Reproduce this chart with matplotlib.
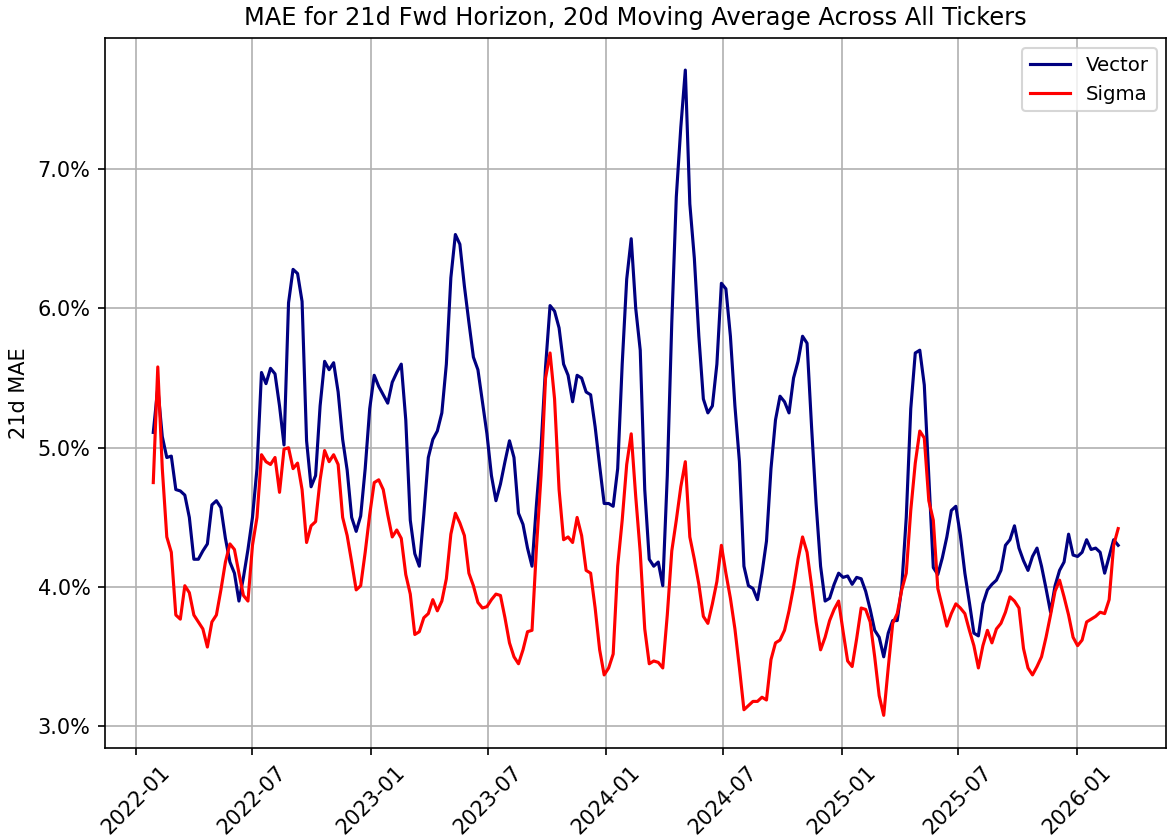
import numpy as np
import pandas as pd
import matplotlib
matplotlib.use('Agg')
import matplotlib.pyplot as plt
import matplotlib.dates as mdates
from matplotlib.ticker import PercentFormatter

# weekly readings, 20d moving average of 21d fwd MAE (in %)
dates = pd.date_range('2022-01-28', periods=215, freq='7D')

vector = [
    5.11, 5.43, 5.08, 4.93, 4.94, 4.70, 4.69, 4.66, 4.50, 4.20,
    4.20, 4.26, 4.31, 4.59, 4.62, 4.57, 4.35, 4.18, 4.10, 3.90,
    4.07, 4.27, 4.50, 4.85, 5.54, 5.46, 5.57, 5.53, 5.30, 5.02,
    6.04, 6.28, 6.25, 6.05, 5.05, 4.72, 4.80, 5.30, 5.62, 5.56,
    5.61, 5.40, 5.06, 4.84, 4.50, 4.40, 4.51, 4.85, 5.28, 5.52,
    5.44, 5.38, 5.32, 5.47, 5.54, 5.60, 5.20, 4.48, 4.24, 4.15,
    4.52, 4.93, 5.06, 5.12, 5.25, 5.60, 6.22, 6.53, 6.46, 6.16,
    5.90, 5.65, 5.56, 5.33, 5.10, 4.80, 4.62, 4.74, 4.90, 5.05,
    4.93, 4.53, 4.45, 4.28, 4.15, 4.60, 5.00, 5.58, 6.02, 5.98,
    5.86, 5.60, 5.52, 5.33, 5.52, 5.50, 5.40, 5.38, 5.15, 4.87,
    4.60, 4.60, 4.58, 4.85, 5.60, 6.21, 6.50, 6.00, 5.70, 4.70,
    4.20, 4.15, 4.18, 4.01, 4.80, 5.90, 6.80, 7.30, 7.71, 6.75,
    6.36, 5.80, 5.35, 5.25, 5.30, 5.60, 6.18, 6.14, 5.80, 5.30,
    4.90, 4.15, 4.01, 3.99, 3.91, 4.10, 4.33, 4.85, 5.20, 5.37,
    5.33, 5.25, 5.50, 5.62, 5.80, 5.75, 5.15, 4.60, 4.15, 3.90,
    3.92, 4.02, 4.10, 4.07, 4.08, 4.02, 4.07, 4.06, 3.97, 3.84,
    3.69, 3.64, 3.50, 3.67, 3.76, 3.76, 4.00, 4.50, 5.28, 5.68,
    5.70, 5.45, 4.80, 4.14, 4.09, 4.21, 4.36, 4.55, 4.58, 4.37,
    4.10, 3.89, 3.67, 3.65, 3.88, 3.98, 4.02, 4.05, 4.12, 4.30,
    4.34, 4.44, 4.28, 4.19, 4.12, 4.22, 4.28, 4.15, 3.99, 3.82,
    4.01, 4.12, 4.18, 4.38, 4.23, 4.22, 4.25, 4.34, 4.27, 4.28,
    4.25, 4.10, 4.22, 4.34, 4.30,
]

sigma = [
    4.75, 5.58, 4.85, 4.36, 4.25, 3.80, 3.77, 4.01, 3.96, 3.80,
    3.75, 3.70, 3.57, 3.75, 3.80, 3.98, 4.18, 4.31, 4.27, 4.10,
    3.94, 3.90, 4.30, 4.50, 4.95, 4.90, 4.88, 4.93, 4.68, 4.99,
    5.00, 4.85, 4.89, 4.70, 4.32, 4.44, 4.47, 4.77, 4.98, 4.90,
    4.95, 4.88, 4.50, 4.37, 4.18, 3.98, 4.01, 4.25, 4.52, 4.75,
    4.77, 4.70, 4.52, 4.36, 4.41, 4.35, 4.09, 3.95, 3.66, 3.68,
    3.78, 3.81, 3.91, 3.83, 3.90, 4.06, 4.38, 4.53, 4.46, 4.37,
    4.10, 4.01, 3.89, 3.85, 3.86, 3.91, 3.95, 3.94, 3.78, 3.60,
    3.50, 3.45, 3.55, 3.68, 3.69, 4.29, 4.80, 5.50, 5.68, 5.35,
    4.70, 4.34, 4.36, 4.32, 4.50, 4.37, 4.12, 4.10, 3.85, 3.55,
    3.37, 3.42, 3.52, 4.15, 4.48, 4.88, 5.10, 4.65, 4.25, 3.70,
    3.45, 3.47, 3.46, 3.42, 3.80, 4.26, 4.48, 4.72, 4.90, 4.36,
    4.20, 4.02, 3.79, 3.74, 3.88, 4.04, 4.30, 4.10, 3.92, 3.70,
    3.42, 3.12, 3.15, 3.18, 3.18, 3.21, 3.19, 3.48, 3.60, 3.62,
    3.69, 3.83, 4.00, 4.20, 4.36, 4.25, 4.01, 3.75, 3.55, 3.64,
    3.76, 3.84, 3.90, 3.68, 3.47, 3.43, 3.63, 3.85, 3.84, 3.75,
    3.50, 3.22, 3.08, 3.42, 3.74, 3.81, 3.98, 4.10, 4.55, 4.89,
    5.12, 5.07, 4.62, 4.48, 3.99, 3.86, 3.72, 3.81, 3.88, 3.85,
    3.81, 3.69, 3.58, 3.42, 3.58, 3.69, 3.60, 3.70, 3.74, 3.82,
    3.93, 3.90, 3.85, 3.56, 3.42, 3.37, 3.43, 3.50, 3.64, 3.80,
    3.97, 4.05, 3.93, 3.80, 3.64, 3.58, 3.62, 3.75, 3.77, 3.79,
    3.82, 3.81, 3.91, 4.30, 4.42,
]

fig, ax = plt.subplots(figsize=(7.78, 5.6), dpi=150)
fig.subplots_adjust(left=0.090, right=0.9995, top=0.955, bottom=0.11)

ax.plot(dates, vector, label='Vector', color='navy', linewidth=1.5)
ax.plot(dates, sigma, label='Sigma', color='red', linewidth=1.5)

ax.xaxis.set_major_locator(mdates.MonthLocator(bymonth=[1, 7]))
ax.xaxis.set_major_formatter(mdates.DateFormatter('%Y-%m'))
ax.yaxis.set_major_formatter(PercentFormatter(xmax=100, decimals=1))
plt.xticks(rotation=45)

ax.grid(True)
ax.legend(loc='upper right', fontsize=9.5)
ax.set_title('MAE for 21d Fwd Horizon, 20d Moving Average Across All Tickers', fontsize=11.6)
ax.set_ylabel('21d MAE')

fig.savefig('out.png', dpi=150)
